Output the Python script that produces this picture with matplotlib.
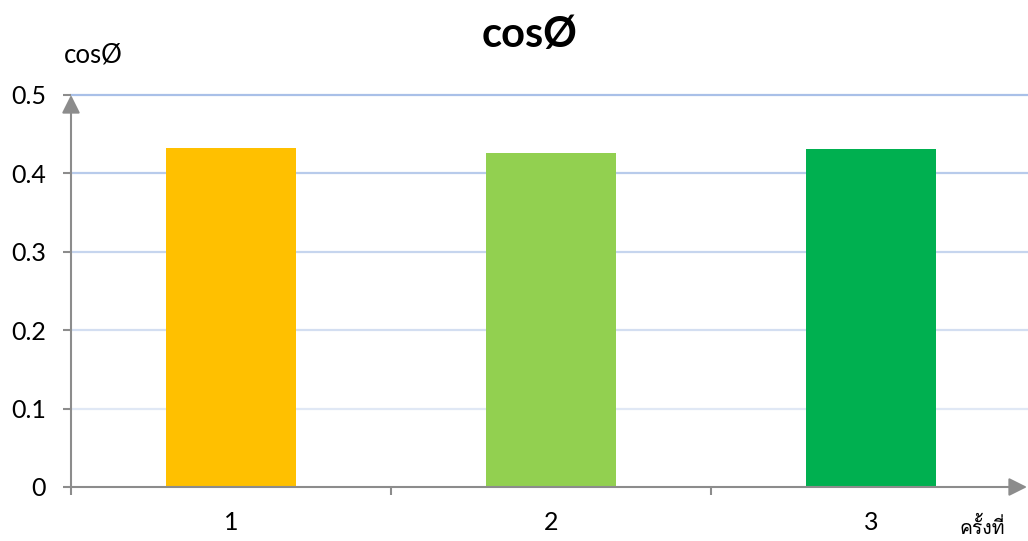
import matplotlib
matplotlib.use("Agg")
import matplotlib.pyplot as plt
from matplotlib import font_manager
from matplotlib.ft2font import FT2Font

# cos phi for each measurement run
runs = ["1", "2", "3"]
cos_phi = [0.432, 0.426, 0.431]
bar_colors = ["#FFC000", "#92D050", "#00B050"]
y_ticks = [0, 0.1, 0.2, 0.3, 0.4, 0.5]
y_tick_labels = ["0", "0.1", "0.2", "0.3", "0.4", "0.5"]
# gridlines fade from top to bottom
grid_colors = ["#E0E8F5", "#D3DEF1", "#C6D5EE", "#B8CBEB", "#A9C0E8"]

AXIS_GRAY = "#8C8C8C"


def find_thai_font():
    for f in font_manager.fontManager.ttflist:
        try:
            if 0x0E04 in FT2Font(f.fname).get_charmap():
                return f.name
        except Exception:
            pass
    return None


thai = find_thai_font()
families = ["Lato"] + ([thai] if thai else []) + ["DejaVu Sans"]
plt.rcParams["font.family"] = families

W, H = 1028, 541
left, bottom, width, height = 71, 54, 960, 392
fig = plt.figure(figsize=(W / 100, H / 100), dpi=100)
ax = fig.add_axes([left / W, bottom / H, width / W, height / H])

x = list(range(1, len(runs) + 1))
ax.bar(x, cos_phi, width=0.405, color=bar_colors, zorder=3)

for yv, c in zip(y_ticks[1:], grid_colors):
    ax.axhline(yv, color=c, lw=1.6, zorder=1, clip_on=False)

ax.set_xlim(0.5, len(runs) + 0.5)
ax.set_ylim(0, 0.5)

for s in ax.spines.values():
    s.set_visible(False)

# axes drawn as arrows; x arrow stops at the figure edge
arrow = dict(arrowstyle="-|>,head_length=1.1,head_width=0.55", color=AXIS_GRAY,
             lw=1.5, shrinkA=0, shrinkB=0, mutation_scale=10)
x_end = (W - 1 - left) / width
ax.annotate("", xy=(x_end, 0), xytext=(0, 0), xycoords="axes fraction",
            arrowprops=arrow, annotation_clip=False, zorder=4)
ax.annotate("", xy=(0, 1.0), xytext=(0, 0), xycoords="axes fraction",
            arrowprops=arrow, annotation_clip=False, zorder=4)

ax.set_yticks(y_ticks)
ax.set_yticklabels(y_tick_labels)
ax.tick_params(axis="y", direction="out", length=6, width=1.5, color=AXIS_GRAY,
               pad=12, labelsize=18, labelcolor="black")

ax.set_xticks(x)
ax.set_xticklabels(runs)
ax.tick_params(axis="x", which="major", length=0, pad=17, labelsize=18)
# category boundary ticks
ax.set_xticks([i - 0.5 for i in x], minor=True)
ax.tick_params(axis="x", which="minor", direction="out", length=6, width=1.5,
               color=AXIS_GRAY)

fig.text(530 / W, 1 - 35 / H, "cosØ", ha="center", va="center",
         fontsize=30, fontweight="bold")
fig.text(64 / W, 1 - 55 / H, "cosØ", ha="left", va="center", fontsize=18.5)
fig.text(1005 / W, 1 - 526 / H, "ครั้งที่", ha="right", va="center", fontsize=14)

fig.savefig("out.png", dpi=100, facecolor="white")
